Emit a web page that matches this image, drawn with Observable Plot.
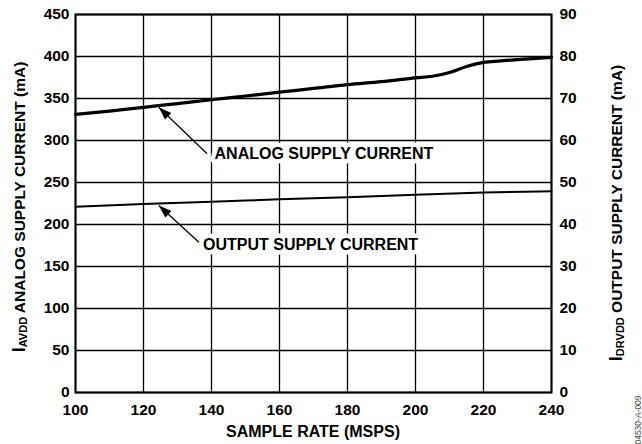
<!DOCTYPE html>
<html><head><meta charset="utf-8">
<script src="https://cdn.jsdelivr.net/npm/d3@7"></script>
<script src="https://cdn.jsdelivr.net/npm/@observablehq/plot@0.6"></script>
<style>body{margin:0;background:#fff} #chart{width:642px;height:444px}</style>
</head><body><div id="chart"></div>
<script>
// Data
const analogRate = [100,110,120,130,140,150,160,170,180,190,200,205,210,215,220,225,230,240];
const analogCurrent = [331,335,339.5,344,348.5,353,357.5,362,366.5,370,374.5,376.5,381,388,393,394.7,396.3,399];
const outputRate = [100,120,140,160,180,200,220,240];
const outputCurrent = [44.2,44.9,45.4,46.0,46.5,47.1,47.6,47.9];
const xTicks = [100,120,140,160,180,200,220,240];
const leftTicks = [0,50,100,150,200,250,300,350,400,450];
const rightTickLabels = [0,10,20,30,40,50,60,70,80,90];
const leftPerRight = 5; // 450 mA left == 90 mA right
const annotations = [
  {label:"ANALOG SUPPLY CURRENT", x:140.9, y:284, tailX:138.7, tailY:284.2, tipX:124.5, tipY:339.6, angle:-46},
  {label:"OUTPUT SUPPLY CURRENT", x:137.5, y:175.6, tailX:136.3, tailY:178.9, tipX:124.5, tipY:222.6, angle:-47.5}
];

const analog = analogRate.map((x,i)=>({x, y:analogCurrent[i]}));
const output = outputRate.map((x,i)=>({x, y:outputCurrent[i]*leftPerRight}));

const font = "'Liberation Sans', Arial, Helvetica, sans-serif";
const plot = Plot.plot({
  width:642, height:444,
  marginLeft:75, marginRight:91, marginTop:14, marginBottom:52,
  style:{fontFamily:font, fontSize:"15.5px", fontWeight:"bold", color:"black", background:"white", overflow:"visible"},
  x:{domain:[100,240]},
  y:{domain:[0,450]},
  marks:[
    Plot.gridX(xTicks, {stroke:"black", strokeOpacity:1, strokeWidth:1.3}),
    Plot.gridY(leftTicks, {stroke:"black", strokeOpacity:1, strokeWidth:1.3}),
    Plot.text(annotations, {x:"x", y:"y", text:"label", textAnchor:"start", fontSize:16, fontWeight:"bold", fill:"black", stroke:"white", strokeWidth:9, paintOrder:"stroke"}),
    Plot.frame({stroke:"black", strokeWidth:2}),
    Plot.line(analog, {x:"x", y:"y", stroke:"black", strokeWidth:3.2, curve:"monotone-x"}),
    Plot.line(output, {x:"x", y:"y", stroke:"black", strokeWidth:2, curve:"monotone-x"}),
    Plot.link(annotations, {x1:"tailX", y1:"tailY", x2:"tipX", y2:"tipY", stroke:"black", strokeWidth:1.3}),
    Plot.vector(annotations, {x:"tipX", y:"tipY", rotate:"angle", length:13, r:4.5, shape:"spike", anchor:"end", fill:"black", stroke:"none"}),
    Plot.axisX(xTicks, {anchor:"bottom", tickSize:0, tickPadding:11, label:null, fontSize:15.5, fontWeight:"bold"}),
    Plot.axisY(leftTicks, {anchor:"left", tickSize:0, tickPadding:6, label:null, fontSize:15.5, fontWeight:"bold"}),
    Plot.axisY(leftTicks, {anchor:"right", tickSize:0, tickPadding:8, label:null, fontSize:15.5, fontWeight:"bold", tickFormat:(d)=>String(rightTickLabels[leftTicks.indexOf(d)])})
  ]
});
document.getElementById("chart").appendChild(plot);

const svg = d3.select(plot);
// x axis title
svg.append("text").attr("x",313).attr("y",437).attr("text-anchor","middle")
  .attr("font-family",font).attr("font-size",16).attr("font-weight","bold").attr("fill","black")
  .text("SAMPLE RATE (MSPS)");
// left title
const lt = svg.append("text").attr("transform","translate(25,207) rotate(-90)").attr("text-anchor","middle")
  .attr("font-family",font).attr("font-size",15.5).attr("font-weight","bold").attr("fill","black");
lt.append("tspan").attr("font-size",18).text("I");
lt.append("tspan").attr("font-size",11).attr("dy",1.5).text("AVDD");
lt.append("tspan").attr("dy",-1.5).text(" ANALOG SUPPLY CURRENT (mA)");
// right title
const rt = svg.append("text").attr("transform","translate(622,213) rotate(-90)").attr("text-anchor","middle")
  .attr("font-family",font).attr("font-size",15.5).attr("font-weight","bold").attr("fill","black");
rt.append("tspan").attr("font-size",18).text("I");
rt.append("tspan").attr("font-size",11).attr("dy",1.5).text("DRVDD");
rt.append("tspan").attr("dy",-1.5).text(" OUTPUT SUPPLY CURRENT (mA)");
// figure id
svg.append("text").attr("transform","translate(641,420) rotate(-90)").attr("text-anchor","middle")
  .attr("font-family",font).attr("font-size",8.5).attr("font-weight","normal").attr("fill","#444")
  .text("04530-A-009");
</script></body></html>
